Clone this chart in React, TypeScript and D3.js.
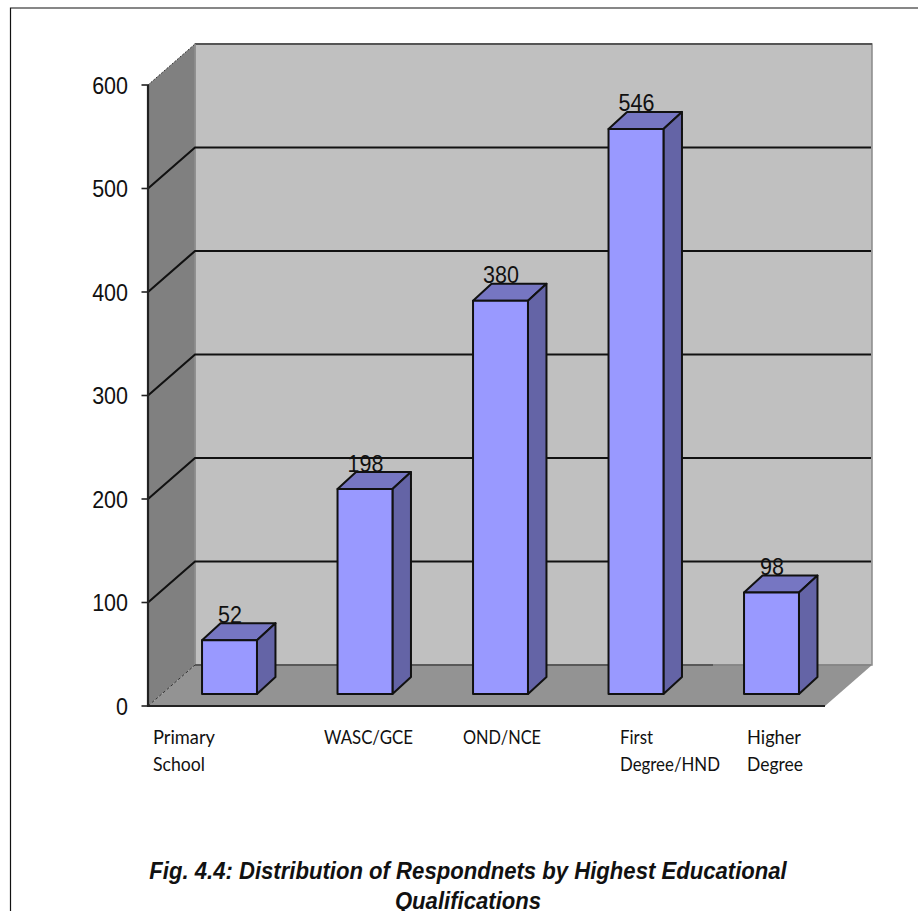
import React from "react";
import * as d3 from "d3";

const categories = ["Primary School", "WASC/GCE", "OND/NCE", "First Degree/HND", "Higher Degree"];
const categoryLines = [["Primary", "School"], ["WASC/GCE"], ["OND/NCE"], ["First", "Degree/HND"], ["Higher", "Degree"]];
const categoryLabelX = [153, 324, 463, 620, 747];
const counts = [52, 198, 380, 546, 98];
const axisTicks = [0, 100, 200, 300, 400, 500, 600];
const titleLines = ["Fig. 4.4: Distribution of Respondnets by Highest Educational", "Qualifications"];

// Set width of each category label line, in pixels.
const lineWidths: Record<string, number> = {
  Primary: 62,
  School: 52,
  "WASC/GCE": 89,
  "OND/NCE": 78,
  First: 33,
  "Degree/HND": 100,
  Higher: 54,
  Degree: 56,
};

const W = 918;
const H = 911;
const plot = { left: 148, right: 825, bottom: 706, top: 85 };
const depth = { dx: 47, dy: -41 };
const barDepth = { dx: 18.5, dy: -17 };
const barInset = { dx: 14, dy: -12 };

const SANS = "'Liberation Sans', Arial, sans-serif";

const y = d3.scaleLinear().domain([0, 600]).range([plot.bottom, plot.top]);
const x = d3
  .scaleBand<string>()
  .domain(categories)
  .range([plot.left + barInset.dx, plot.right + barInset.dx])
  .paddingInner(80.5 / 135.4)
  .paddingOuter(40 / 135.4);

const poly = (pts: [number, number][]) => d3.line()(pts) + "Z";

// Text set with independent horizontal and vertical scaling about its baseline.
function Stretched(props: {
  x: number;
  y: number;
  sx?: number;
  sy?: number;
  anchor?: "start" | "middle" | "end";
  family: string;
  size: number;
  weight?: string;
  italic?: boolean;
  length?: number;
  children: React.ReactNode;
}) {
  return (
    <text
      transform={`translate(${props.x} ${props.y}) scale(${props.sx ?? 1} ${props.sy ?? 1})`}
      textAnchor={props.anchor ?? "start"}
      textLength={props.length}
      lengthAdjust={props.length ? "spacingAndGlyphs" : undefined}
      stroke="none"
      fontFamily={props.family}
      fontSize={props.size}
      fontWeight={props.weight}
      fontStyle={props.italic ? "italic" : undefined}
      fill="#111"
    >
      {props.children}
    </text>
  );
}

export default function App() {
  const floorY = plot.bottom;
  const backY = floorY + depth.dy;
  const topY = plot.top + depth.dy;
  const backL = plot.left + depth.dx;
  const backR = plot.right + depth.dx;
  const barBottom = plot.bottom + barInset.dy;

  return (
    <svg
      width={W}
      height={H}
      viewBox={`0 0 ${W} ${H}`}
      style={{ position: "absolute", left: 0, top: 0, background: "#fff" }}
    >
      {/* page frame */}
      <path d={`M10.5 ${H}V8H${W}`} fill="none" stroke="#111" strokeWidth={1.2} />

      {/* back wall, side wall and floor */}
      <rect x={backL} y={topY} width={backR - backL} height={backY - topY} fill="#c0c0c0" stroke="#8a8a8a" strokeWidth={1.5} />
      <path d={`M${backL} ${topY}H${backR}`} stroke="#555" strokeWidth={2} />
      <path
        d={poly([[plot.left, plot.top], [backL, topY], [backL, backY], [plot.left, floorY]])}
        fill="#808080"
      />
      <path
        d={poly([[plot.left, floorY], [backL, backY], [backR, backY], [plot.right, floorY]])}
        fill="#939393"
      />
      <path d={`M${plot.left} ${plot.top}L${backL} ${topY}`} stroke="#333" strokeWidth={1} strokeDasharray="2 1.5" />
      <path d={`M${plot.left} ${floorY}L${backL} ${backY}`} stroke="#333" strokeWidth={1} strokeDasharray="3 2" />
      <path d={`M${backL} ${topY}V${backY}`} stroke="#8f8f8f" strokeWidth={1.5} />

      {/* gridlines running along side wall and back wall */}
      {axisTicks.slice(1, -1).map((t) => (
        <path
          key={t}
          d={`M${plot.left} ${y(t)}L${backL} ${y(t) + depth.dy}H${backR - 1}`}
          fill="none"
          stroke="#111"
          strokeWidth={2.1}
        />
      ))}
      <path d={`M${backL} ${backY}H${backL + 518}`} stroke="#444" strokeWidth={1.5} />
      <path d={`M${backL + 518} ${backY}H${backR - 1}`} stroke="#7a7a7a" strokeWidth={1.2} />

      {/* axes */}
      <path d={`M${plot.left} ${plot.top}V${floorY}H${plot.right}`} fill="none" stroke="#222" strokeWidth={2.2} />
      {axisTicks.map((t) => (
        <g key={t}>
          <path d={`M${plot.left - 6.5} ${y(t)}H${plot.left}`} stroke="#222" strokeWidth={1.6} />
          <Stretched x={plot.left - 20} y={y(t) + 8.5} sy={1.15} anchor="end" family={SANS} size={21.5}>
            {t}
          </Stretched>
        </g>
      ))}

      {/* 3D bars: top face, side face, front face and value label */}
      {categories.map((c, i) => {
        const x0 = x(c) as number;
        const bw = x.bandwidth();
        const top = y(counts[i]) + barInset.dy;
        const d = barDepth;
        return (
          <g key={c} stroke="#111" strokeWidth={2} strokeLinejoin="round">
            <path
              d={poly([[x0, top], [x0 + d.dx, top + d.dy], [x0 + bw + d.dx, top + d.dy], [x0 + bw, top]])}
              fill="#7676c2"
            />
            <path
              d={poly([[x0 + bw, top], [x0 + bw + d.dx, top + d.dy], [x0 + bw + d.dx, barBottom + d.dy], [x0 + bw, barBottom]])}
              fill="#6464a6"
            />
            <rect x={x0} y={top} width={bw} height={barBottom - top} fill="#9999ff" />
            <Stretched x={x0 + bw / 2 + 0.5} y={top - 17.5} sy={1.15} anchor="middle" family={SANS} size={21.5}>
              {counts[i]}
            </Stretched>
          </g>
        );
      })}

      {/* category labels */}
      {categoryLines.map((lines, i) =>
        lines.map((ln, j) => (
          <Stretched
            key={ln}
            x={categoryLabelX[i]}
            y={744 + j * 27}
            sy={1.08}
            length={lineWidths[ln]}
            family="Lato, 'Noto Sans', sans-serif"
            size={18}
          >
            {ln}
          </Stretched>
        ))
      )}

      {/* figure caption */}
      {titleLines.map((ln, i) => (
        <Stretched
          key={ln}
          x={468}
          y={879 + i * 30}
          sx={1.005}
          sy={1.06}
          anchor="middle"
          family={SANS}
          size={22}
          weight="bold"
          italic
        >
          {ln}
        </Stretched>
      ))}
    </svg>
  );
}
